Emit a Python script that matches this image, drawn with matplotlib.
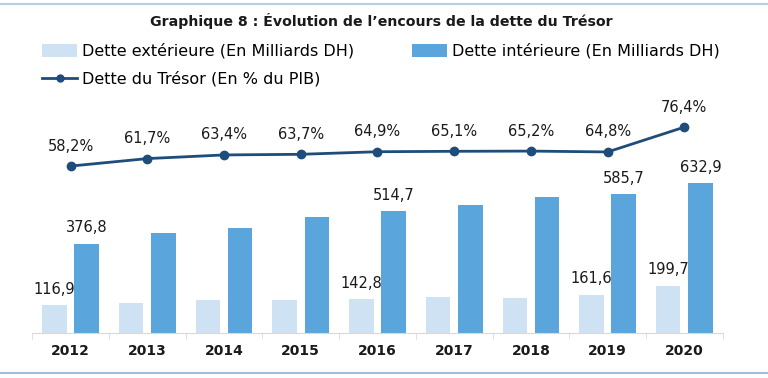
import matplotlib.pyplot as plt
import matplotlib.lines as mlines
import numpy as np

years = ["2012", "2013", "2014", "2015", "2016", "2017", "2018", "2019", "2020"]
dette_ext = [116.9, 127, 140, 140, 142.8, 152, 146, 161.6, 199.7]
dette_int = [376.8, 423, 445, 490, 514.7, 540, 574, 585.7, 632.9]
dette_pib = [58.2, 61.7, 63.4, 63.7, 64.9, 65.1, 65.2, 64.8, 76.4]

# only these years carry a value label on the bars
labelled = ["2012", "2016", "2019", "2020"]

c_light = "#cfe2f3"
c_dark = "#5aa5dc"
c_line = "#1e4d7b"
c_text = "#1a1a1a"

plt.rcParams["font.family"] = ["DejaVu Sans"]

fig = plt.figure(figsize=(7.68, 3.78), dpi=100)
ax = fig.add_axes([0.042, 0.119, 0.899, 0.59])
ax2 = ax.twinx()

x = np.arange(len(years))
w = 0.32
off = 0.21

b1 = ax.bar(x - off, dette_ext, w, color=c_light, zorder=2)
b2 = ax.bar(x + off, dette_int, w, color=c_dark, zorder=2)

for i, yr in enumerate(years):
    if yr in labelled:
        ax.annotate(f"{dette_ext[i]:.1f}".replace(".", ","), (x[i] - off, dette_ext[i]),
                    xytext=(0, 6), textcoords="offset points", ha="center", va="bottom",
                    fontsize=10.5, color=c_text)
        ax.annotate(f"{dette_int[i]:.1f}".replace(".", ","), (x[i] + off, dette_int[i]),
                    xytext=(0, 6), textcoords="offset points", ha="center", va="bottom",
                    fontsize=10.5, color=c_text)

ax2.plot(x, dette_pib, color=c_line, lw=2, marker="o", ms=6, zorder=3)
for i, v in enumerate(dette_pib):
    ax2.annotate(f"{v:.1f}%".replace(".", ","), (x[i], v), xytext=(0, 9),
                 textcoords="offset points", ha="center", va="bottom",
                 fontsize=10.5, color=c_text)

ax.set_xlim(-0.5, len(years) - 0.5)
ax.set_ylim(0, 941)
ax2.set_ylim(-19.8, 84.4)

for a in (ax, ax2):
    for s in ("top", "right", "left"):
        a.spines[s].set_visible(False)
    a.set_yticks([])
ax2.spines["bottom"].set_visible(False)
ax.spines["bottom"].set_color("#d9d9d9")

ax.set_xticks(x)
ax.set_xticklabels(years, fontsize=10, fontweight="bold", color=c_text)
ax.tick_params(axis="x", length=0, pad=8)
ax.set_xticks(np.arange(-0.5, len(years), 1), minor=True)
ax.tick_params(axis="x", which="minor", length=4, color="#d9d9d9")

fig.text(0.497, 0.945, "Graphique 8 : Évolution de l\u2019encours de la dette du Trésor",
         ha="center", va="center", fontsize=10.2, fontweight="bold", color=c_text)

line_h = mlines.Line2D([], [], color=c_line, lw=2, marker="o", ms=5)
leg = fig.legend([b1, line_h, b2],
                 ["Dette extérieure (En Milliards DH)", "Dette du Trésor (En % du PIB)",
                  "Dette intérieure (En Milliards DH)"],
                 ncol=2, loc="upper left", bbox_to_anchor=(0.055, 0.885), frameon=False,
                 fontsize=11.5, handlelength=2.2, handleheight=0.8, handletextpad=0.3,
                 columnspacing=3.6, labelspacing=0.75, borderaxespad=0, borderpad=0)

# thin frame lines at top and bottom of the card
fig.add_artist(mlines.Line2D([0, 1], [0.99, 0.99], color="#b7cfe6", lw=1.5))
fig.add_artist(mlines.Line2D([0, 1], [0.013, 0.013], color="#9dbfe0", lw=1.5))

fig.savefig("out.png", dpi=100)
